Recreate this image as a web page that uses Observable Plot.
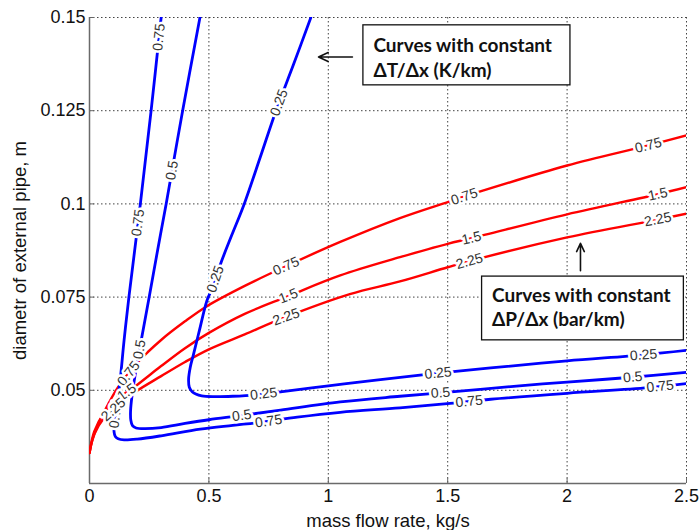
<!DOCTYPE html>
<html><head><meta charset="utf-8">
<script src="https://cdn.jsdelivr.net/npm/d3@7"></script>
<script src="https://cdn.jsdelivr.net/npm/@observablehq/plot@0.6"></script>
<style>body{margin:0;background:#fff}</style>
</head><body><div id="chart"></div>
<script>
// ---- axes ----
const xTicks = [0, 0.5, 1, 1.5, 2, 2.5];
const xTickLabels = ["0", "0.5", "1", "1.5", "2", "2.5"];
const yTicks = [0.05, 0.075, 0.1, 0.125, 0.15];
const yTickLabels = ["0.05", "0.075", "0.1", "0.125", "0.15"];
const xLabel = "mass flow rate, kg/s";
const yLabel = "diametr of external pipe, m";

// ---- blue contours: constant ΔT/Δx (K/km) [x, y] ----
const dT025 = [[0.927,0.15],[0.855,0.1375],[0.781,0.125],[0.715,0.1125],[0.648,0.1],[0.595,0.0915],[0.554,0.0848],[0.515,0.0775],[0.492,0.0741],[0.46,0.066],[0.435,0.0595],[0.422,0.0562],[0.415,0.053],[0.418,0.0508],[0.43,0.0496],[0.445,0.049],[0.47,0.0485],[0.52,0.0483],[0.6,0.0484],[0.7,0.0488],[0.8,0.0496],[1.0,0.0512],[1.2,0.0527],[1.43,0.0544],[1.68,0.056],[2.0,0.0579],[2.32,0.0595],[2.5,0.0607]];
const dT05 = [[0.4625,0.15],[0.39,0.125],[0.321,0.1],[0.285,0.0875],[0.25,0.075],[0.214,0.0625],[0.192,0.0545],[0.178,0.0485],[0.172,0.0445],[0.173,0.042],[0.18,0.0405],[0.195,0.0399],[0.23,0.0397],[0.3,0.04],[0.4,0.0411],[0.5,0.0421],[0.632,0.0432],[0.8,0.0447],[1.05,0.0469],[1.3,0.0484],[1.54,0.0497],[1.8,0.0512],[2.0,0.0522],[2.27,0.0535],[2.5,0.0548]];
const dT075 = [[0.30,0.15],[0.258,0.125],[0.213,0.1],[0.165,0.075],[0.145,0.0635],[0.128,0.0525],[0.114,0.0455],[0.104,0.041],[0.103,0.0388],[0.108,0.0376],[0.12,0.037],[0.145,0.0367],[0.2,0.0369],[0.3,0.0378],[0.464,0.0396],[0.6,0.0406],[0.715,0.0414],[0.87,0.0428],[1.05,0.0441],[1.3,0.0453],[1.51,0.0465],[1.68,0.0476],[2.0,0.0492],[2.34,0.0507],[2.5,0.0518]];

// ---- red contours: constant ΔP/Δx (bar/km) [x, y] ----
const dP075 = [[0,0.0332],[0.01,0.0362],[0.037,0.041],[0.079,0.0464],[0.121,0.051],[0.197,0.0572],[0.3,0.0635],[0.4,0.0685],[0.49,0.0725],[0.65,0.078],[0.82,0.0832],[1.05,0.0898],[1.3,0.0962],[1.5,0.1005],[1.62,0.103],[2.0,0.1103],[2.34,0.1157],[2.5,0.1184]];
const dP15 = [[0,0.0332],[0.02,0.039],[0.06,0.0438],[0.12,0.0478],[0.19,0.051],[0.3,0.0565],[0.4,0.0613],[0.5,0.0654],[0.65,0.0705],[0.83,0.0752],[1.05,0.0808],[1.3,0.0857],[1.5,0.0893],[1.6,0.0908],[2.0,0.0972],[2.38,0.1026],[2.5,0.1045]];
const dP225 = [[0,0.0332],[0.02,0.0382],[0.06,0.0425],[0.12,0.046],[0.19,0.0495],[0.3,0.0538],[0.4,0.0576],[0.5,0.061],[0.65,0.065],[0.82,0.0696],[1.09,0.0758],[1.3,0.0792],[1.5,0.083],[1.6,0.0848],[2.0,0.091],[2.38,0.0958],[2.5,0.0974]];

// ---- contour labels: [text, curve, approx x, approx y] ----
const contourLabels = [
  ["0.25","dT025",0.80,0.127],["0.25","dT025",0.543,0.0795],["0.25","dT025",0.73,0.0486],["0.25","dT025",1.46,0.0545],["0.25","dT025",2.32,0.0595],
  ["0.5","dT05",0.346,0.109],["0.5","dT05",0.21,0.061],["0.5","dT05",0.637,0.0434],["0.5","dT05",1.47,0.0492],["0.5","dT05",2.275,0.0536],
  ["0.75","dT075",0.296,0.1447],["0.75","dT075",0.197,0.095],["0.75","dT075",0.109,0.0435],["0.75","dT075",0.75,0.0416],["0.75","dT075",1.59,0.047],["0.75","dT075",2.39,0.0509],
  ["0.75","dP075",0.163,0.0545],["0.75","dP075",0.824,0.0832],["0.75","dP075",1.573,0.1012],["0.75","dP075",2.34,0.1157],
  ["1.5","dP15",0.156,0.0495],["1.5","dP15",0.833,0.0752],["1.5","dP15",1.6,0.0908],["1.5","dP15",2.38,0.1026],
  ["2.25","dP225",0.1,0.0448],["2.25","dP225",0.824,0.0696],["2.25","dP225",1.59,0.0849],["2.25","dP225",2.38,0.0958]
];

// ---- annotations (data coordinates) ----
const annoBoxes = [
  {x1:1.147, x2:2.014, y1:0.1479, y2:0.1318},
  {x1:1.644, x2:2.489, y1:0.0805, y2:0.0634}
];
const annoTexts = [
  {x:1.189, y:0.1425, text:"Curves with constant"},
  {x:1.189, y:0.1358, text:"ΔT/Δx (K/km)"},
  {x:1.686, y:0.0754, text:"Curves with constant"},
  {x:1.686, y:0.0690, text:"ΔP/Δx (bar/km)"}
];
const annoArrows = [
  {x1:1.101, y1:0.1394, x2:0.959, y2:0.1394},
  {x1:2.056, y1:0.0821, x2:2.056, y2:0.0894}
];

// ---- layout ----
const W = 700, H = 530, mL = 89, mR = 14, mT = 17, mB = 47;
const xDomain = [0, 2.5], yDomain = [0.025, 0.15];
const kx = (W - mL - mR) / (xDomain[1] - xDomain[0]);
const ky = (H - mT - mB) / (yDomain[1] - yDomain[0]);
const toPx = ([x, y]) => [mL + (x - xDomain[0]) * kx, mT + (yDomain[1] - y) * ky];

const curves = {dT025, dT05, dT075, dP075, dP15, dP225};
const blueRows = [], redRows = [];
for (const [name, pts] of Object.entries(curves)) {
  const target = name.startsWith("dT") ? blueRows : redRows;
  pts.forEach(([x, y]) => target.push({name, x, y}));
}

function placeLabel([text, name, lx, ly]) {
  const pts = curves[name].map(toPx);
  const [px, py] = toPx([lx, ly]);
  let best = null;
  for (let i = 0; i < pts.length - 1; i++) {
    const [ax, ay] = pts[i], [bx, by] = pts[i + 1];
    const dx = bx - ax, dy = by - ay, L2 = dx * dx + dy * dy;
    let t = ((px - ax) * dx + (py - ay) * dy) / L2;
    t = Math.max(0, Math.min(1, t));
    const qx = ax + t * dx, qy = ay + t * dy;
    const d = (qx - px) ** 2 + (qy - py) ** 2;
    if (!best || d < best.d) best = {d, qx, qy, ang: Math.atan2(dy, dx) * 180 / Math.PI};
  }
  let a = best.ang;
  if (a > 90) a -= 180;
  if (a <= -90) a += 180;
  return {text, x: xDomain[0] + (best.qx - mL) / kx, y: yDomain[1] - (best.qy - mT) / ky, angle: a};
}
const labelRows = contourLabels.map(placeLabel);

// axis titles, positioned in data units relative to the frame
const axisTitles = [
  {text: xLabel, x: (xDomain[0] + xDomain[1]) / 2, y: yDomain[0] - 38 / ky, rotate: 0},
  {text: yLabel, x: xDomain[0] - 69 / kx, y: (yDomain[0] + yDomain[1]) / 2, rotate: -90}
];

const gridStyle = {stroke: "#222", strokeOpacity: 0.85, strokeDasharray: "1.5,2.5", strokeWidth: 1};

const plot = Plot.plot({
  width: W, height: H,
  marginLeft: mL, marginRight: mR, marginTop: mT, marginBottom: mB,
  x: {domain: xDomain},
  y: {domain: yDomain},
  style: {fontFamily: "'Liberation Sans', Arial, sans-serif", background: "#fff", color: "#111"},
  marks: [
    Plot.gridX(xTicks.slice(1), gridStyle),
    Plot.gridY(yTicks, gridStyle),
    Plot.ruleX(xTicks, {y1: yDomain[0], y2: yDomain[0] + 5 / ky, stroke: "#666"}),
    Plot.ruleY(yTicks, {x1: xDomain[0], x2: xDomain[0] + 5 / kx, stroke: "#666"}),
    Plot.ruleY([yDomain[0]], {stroke: "#6a6a6a", strokeWidth: 1.5}),
    Plot.ruleX([xDomain[0]], {stroke: "#6a6a6a", strokeWidth: 1.5}),
    Plot.axisX(xTicks, {tickSize: 0, tickPadding: 6, fontSize: 18, label: null,
      tickFormat: d => xTickLabels[xTicks.indexOf(d)]}),
    Plot.axisY(yTicks, {tickSize: 0, tickPadding: 4, fontSize: 18, label: null,
      tickFormat: d => yTickLabels[yTicks.indexOf(d)]}),
    Plot.line(redRows, {x: "x", y: "y", z: "name", stroke: "#ff0000", strokeWidth: 2.4, curve: "catmull-rom", clip: true}),
    Plot.line(blueRows, {x: "x", y: "y", z: "name", stroke: "#0000ff", strokeWidth: 2.8, curve: "catmull-rom", clip: true}),
    Plot.text(labelRows, {x: "x", y: "y", text: "text", rotate: "angle", fontSize: 14, fill: "#333",
      stroke: "white", strokeWidth: 5}),
    Plot.rect(annoBoxes, {x1: "x1", x2: "x2", y1: "y1", y2: "y2", fill: "white", stroke: "#111", strokeWidth: 1.3}),
    Plot.text(annoTexts, {x: "x", y: "y", text: "text", textAnchor: "start", fontFamily: "Lato, 'Open Sans', sans-serif",
      fontWeight: 700, fontSize: 19, fill: "#111"}),
    Plot.arrow(annoArrows, {x1: "x1", y1: "y1", x2: "x2", y2: "y2", stroke: "#111", strokeWidth: 1.6, headLength: 10, headAngle: 50}),
    Plot.text(axisTitles, {x: "x", y: "y", text: "text", rotate: "rotate", fontSize: 18.5, fill: "#111", lineAnchor: "middle"})
  ]
});
document.getElementById("chart").appendChild(plot);
</script>
</body></html>
